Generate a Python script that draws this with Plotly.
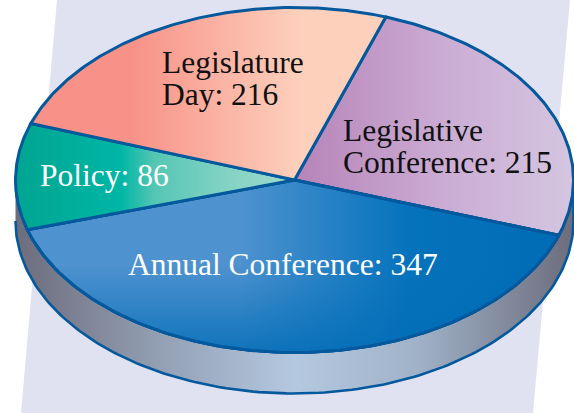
import numpy as np
import plotly.graph_objects as go

categories = ["Legislative Conference", "Annual Conference", "Policy", "Legislature Day"]
values = [215, 347, 86, 216]
label_lines = [["Legislative", "Conference: 215"], ["Annual Conference: 347"], ["Policy: 86"], ["Legislature", "Day: 216"]]

W, H = 574, 413
CX, CY, RX, RY, DEPTH = 294.5, 180, 279, 172.5, 41
START = 70.9
OUT = "#04589c"
FONT = "Liberation Serif"
FS = 31.5

styles = [
    dict(x0=300, x1=570, scale=[[0, "rgb(183,133,185)"], [0.55, "rgb(203,173,212)"], [1, "rgb(212,197,224)"]]),
    dict(x0=30, x1=555, scale=[[0, "rgb(78,146,207)"], [0.40, "rgb(78,146,207)"], [0.72, "rgb(5,115,188)"], [1, "rgb(0,108,182)"]]),
    dict(x0=15, x1=294, scale=[[0, "rgb(0,165,145)"], [0.38, "rgb(0,182,165)"], [0.5, "rgb(85,198,180)"], [0.75, "rgb(130,210,195)"], [1, "rgb(158,218,205)"]]),
    dict(x0=130, x1=300, scale=[[0, "rgb(248,145,135)"], [1, "rgb(253,208,188)"]]),
]
label_pos = [
    [(341, 130), (341, 162)],
    [(126, 264)],
    [(38, 175)],
    [(160, 62), (160, 94)],
]

def pt(deg):
    a = np.radians(deg)
    return CX + RX * np.cos(a), CY - RY * np.sin(a)

fig = go.Figure()

# side wall
t = np.linspace(180, 360, 160)
xb, yb = pt(t)
yb = yb + DEPTH
xt, yt = pt(t[::-1])
fig.add_trace(go.Scatter(
    x=np.r_[xb, xt], y=np.r_[yb, yt], mode="lines", fill="toself", hoverinfo="skip",
    line=dict(color=OUT, width=2.6), fillcolor="rgb(170,185,210)",
    fillgradient=dict(type="horizontal", start=CX - RX, stop=CX + RX, colorscale=[
        [0, "rgb(108,108,124)"], [0.25, "rgb(146,158,178)"], [0.5, "rgb(180,200,224)"],
        [0.72, "rgb(160,178,200)"], [1, "rgb(108,108,124)"]]),
    showlegend=False))

# slices
ang = START
total = sum(values)
for name, v, st in zip(categories, values, styles):
    sweep = v / total * 360
    a = np.linspace(ang, ang - sweep, 120)
    ex, ey = pt(a)
    x = np.r_[CX, ex, CX]
    y = np.r_[CY, ey, CY]
    fig.add_trace(go.Scatter(
        x=x, y=y, mode="lines", fill="toself", name=name, hoverinfo="name",
        line=dict(color=OUT, width=3), fillcolor=st["scale"][0][1],
        fillgradient=dict(type="horizontal", start=st["x0"], stop=st["x1"], colorscale=st["scale"]),
        showlegend=False))
    if name == "Annual Conference":
        fig.add_trace(go.Scatter(
            x=x, y=y, mode="lines", fill="toself", hoverinfo="skip",
            line=dict(color=OUT, width=3), fillcolor="rgba(0,108,182,0.4)",
            fillgradient=dict(type="vertical", start=265, stop=352, colorscale=[
                [0, "rgba(0,108,182,0)"], [1, "rgba(0,108,182,0.8)"]]),
            showlegend=False))
    ang -= sweep

for lines, poss, color in zip(label_lines, label_pos, ["#111", "#fff", "#fff", "#111"]):
    for s, (x, y) in zip(lines, poss):
        fig.add_annotation(x=x, y=y, text=s, showarrow=False, xanchor="left", yanchor="middle",
                           font=dict(family=FONT, size=FS, color=color))

fig.update_layout(
    width=W, height=H, margin=dict(l=0, r=0, t=0, b=0),
    paper_bgcolor="white", plot_bgcolor="white", showlegend=False,
    xaxis=dict(range=[0, W], visible=False, fixedrange=True),
    yaxis=dict(range=[H, 0], visible=False, fixedrange=True),
    shapes=[dict(type="path", path="M57,0 L570,0 L533,413 L21,413 Z", fillcolor="#e0e2f1",
                 line=dict(width=0), layer="below")],
)
fig.write_html("out.html", config={"displayModeBar": False},
               post_script="document.body.style.margin='0';document.body.style.overflow='hidden';")
